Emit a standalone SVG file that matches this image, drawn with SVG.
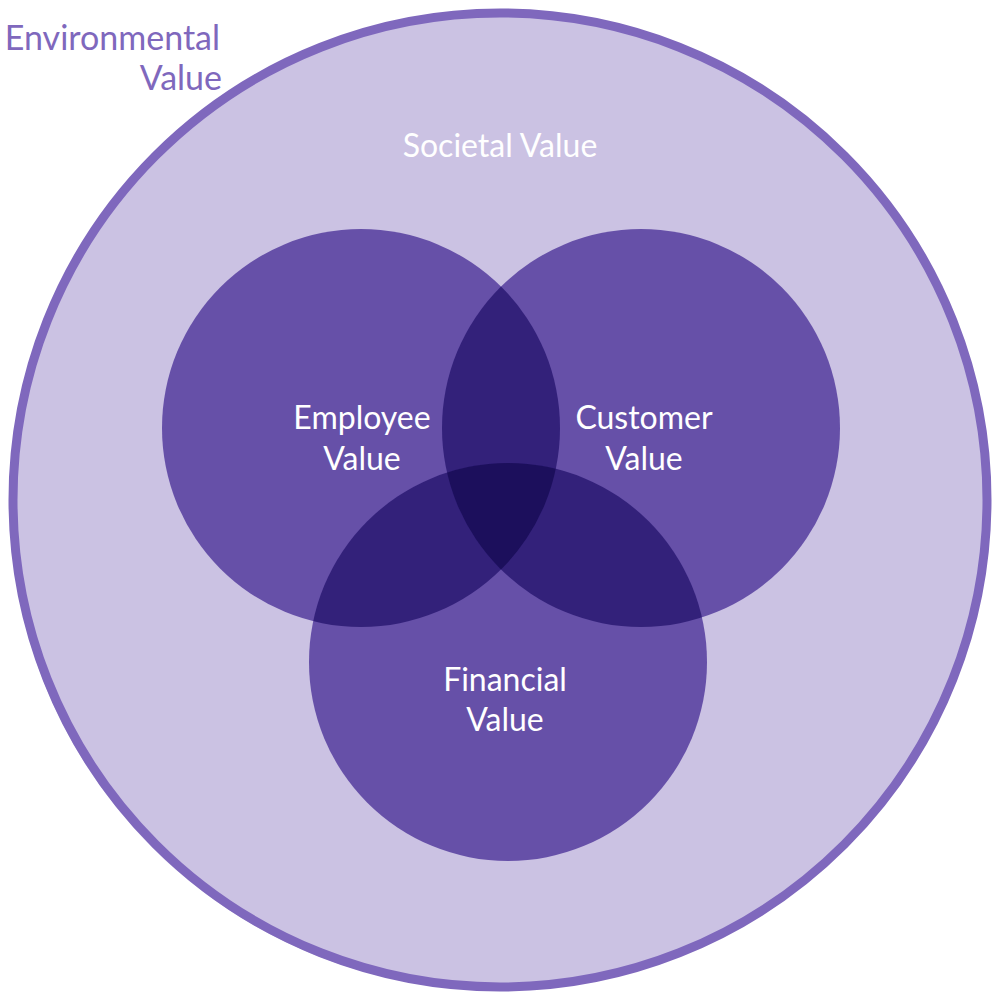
<svg xmlns="http://www.w3.org/2000/svg" width="1000" height="1000" viewBox="0 0 1000 1000">
<style>
.c{fill:#6650a8}.d{fill:#33217a}.t{fill:#1c0f5c}
.w{fill:#fff;font-family:Lato,"Open Sans",sans-serif;font-size:32px;text-anchor:middle}
.e{fill:#7f68bd;font-family:Lato,"Open Sans",sans-serif;font-size:34px;text-anchor:end}
</style>
<defs>
<clipPath id="cE"><circle cx="361" cy="428" r="199"/></clipPath>
<clipPath id="cC"><circle cx="641" cy="428" r="199"/></clipPath>
<clipPath id="cF"><circle cx="508" cy="662" r="199"/></clipPath>
</defs>
<g id="environmental">
<circle cx="496" cy="504" r="486" fill="#cbc2e3"/>
<circle cx="500" cy="500" r="487" fill="#cbc2e3" stroke="#7f68bd" stroke-width="9"/>
<text class="e" x="220" y="50">Environmental</text>
<text class="e" x="222" y="90">Value</text>
</g>
<g id="societal"><text class="w" x="500" y="157">Societal Value</text></g>
<g id="employee"><circle class="c" cx="361" cy="428" r="199"/></g>
<g id="customer"><circle class="c" cx="641" cy="428" r="199"/></g>
<g id="financial"><circle class="c" cx="508" cy="662" r="199"/></g>
<g id="overlaps">
<g clip-path="url(#cE)"><circle class="d" cx="641" cy="428" r="199"/><circle class="d" cx="508" cy="662" r="199"/></g>
<g clip-path="url(#cC)"><circle class="d" cx="508" cy="662" r="199"/></g>
<g clip-path="url(#cE)"><g clip-path="url(#cC)"><circle class="t" cx="508" cy="662" r="199"/></g></g>
</g>
<g id="labels">
<text class="w" x="362" y="429">Employee</text><text class="w" x="362" y="470">Value</text>
<text class="w" x="644" y="429">Customer</text><text class="w" x="644" y="470">Value</text>
<text class="w" x="505" y="691">Financial</text><text class="w" x="505" y="731">Value</text>
</g>
</svg>
